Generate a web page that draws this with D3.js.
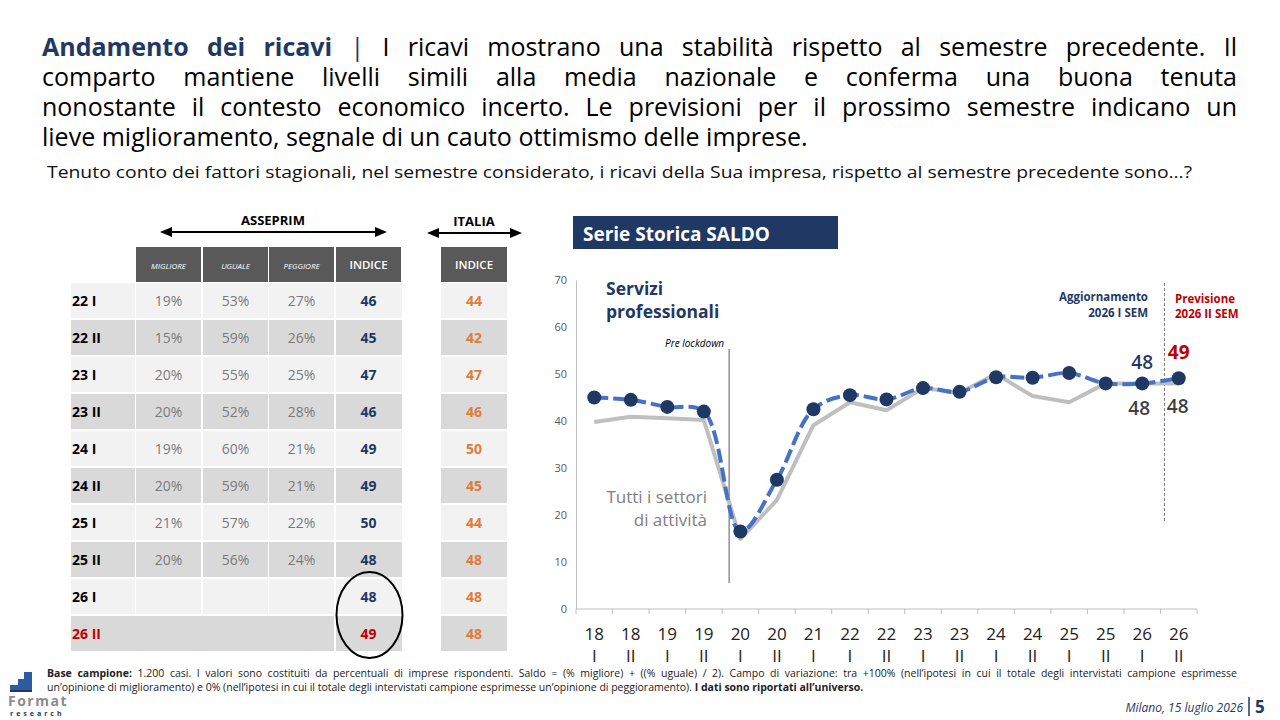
<!DOCTYPE html>
<html lang="it">
<head>
<meta charset="utf-8">
<title>Andamento dei ricavi</title>
<script src="https://d3js.org/d3.v7.min.js"></script>
<style>
  body { margin: 0; background: #fff; }
  #page { position: relative; width: 1280px; height: 720px; overflow: hidden; font-family: "Open Sans", "DejaVu Sans", sans-serif; }
  .tline { position: absolute; left: 42px; width: 1195px; font-size: 25px; color: #000; white-space: nowrap; line-height: 30px; }
  .just { text-align: justify; text-align-last: justify; white-space: normal; }
  .foot { position: absolute; left: 47px; width: 1190px; font-size: 10.5px; color: #222; line-height: 14px; }
  svg { position: absolute; left: 0; top: 0; }
</style>
</head>
<body>
<div id="page"></div>
<script>
// ---- data ----
const periods = ['18 I','18 II','19 I','19 II','20 I','20 II','21 I','22 I','22 II','23 I','23 II','24 I','24 II','25 I','25 II','26 I','26 II'];
const serviziVals = [45, 44.5, 43, 42, 16.5, 27.5, 42.5, 45.5, 44.6, 47, 46.2, 49.3, 49.2, 50.2, 48, 48, 49.1];
const tuttiVals   = [39.8, 40.9, 40.6, 40.2, 14.9, 23.2, 39.1, 44, 42.3, 47, 46, 50, 45.3, 44, 48, 48, 48];
const yTicks = [0, 10, 20, 30, 40, 50, 60, 70];

const tableRows = ['22 I','22 II','23 I','23 II','24 I','24 II','25 I','25 II','26 I','26 II'];
const migliore = [19, 15, 20, 20, 19, 20, 21, 20, null, null];
const uguale   = [53, 59, 55, 52, 60, 59, 57, 56, null, null];
const peggiore = [27, 26, 25, 28, 21, 21, 22, 24, null, null];
const indiceAsseprim = [46, 45, 47, 46, 49, 49, 50, 48, 48, 49];
const indiceItalia   = [44, 42, 47, 46, 50, 45, 44, 48, 48, 48];
const tableCols = ['MIGLIORE', 'UGUALE', 'PEGGIORE', 'INDICE'];

const NAVY = '#1f3864', RED = '#c00000', BLUE = '#4472c4', GREY = '#bfbfbf', ORANGE = '#e07b39';

const page = d3.select('#page');

// ---- title (justified lines) ----
const titleLines = [
  {html: '<b style="color:#1f3864">Andamento dei ricavi</b> <span style="color:#1f3864">|</span> I ricavi mostrano una stabilità rispetto al semestre precedente. Il', just: true},
  {html: 'comparto mantiene livelli simili alla media nazionale e conferma una buona tenuta', just: true},
  {html: 'nonostante il contesto economico incerto. Le previsioni per il prossimo semestre indicano un', just: true},
  {html: 'lieve miglioramento, segnale di un cauto ottimismo delle imprese.', just: false}
];
titleLines.forEach(function(l, i) {
  page.append('div')
    .attr('class', 'tline' + (l.just ? ' just' : ''))
    .style('top', (31 + i * 30) + 'px')
    .html(l.html);
});

page.append('div')
  .attr('class', 'foot just')
  .style('top', '666px')
  .html('<b>Base campione:</b> 1.200 casi. I valori sono costituiti da percentuali di imprese rispondenti. Saldo = (% migliore) + ((% uguale) / 2). Campo di variazione: tra +100% (nell\u2019ipotesi in cui il totale degli intervistati campione esprimesse');
page.append('div')
  .attr('class', 'foot')
  .style('top', '680px')
  .html('un\u2019opinione di miglioramento) e 0% (nell\u2019ipotesi in cui il totale degli intervistati campione esprimesse un\u2019opinione di peggioramento). <b>I dati sono riportati all\u2019universo.</b>');

const svg = page.append('svg').attr('width', 1280).attr('height', 720);

// subtitle
svg.append('text')
  .attr('x', 47).attr('y', 178)
  .attr('font-size', 16).attr('fill', '#111')
  .attr('textLength', 1145).attr('lengthAdjust', 'spacingAndGlyphs')
  .text('Tenuto conto dei fattori stagionali, nel semestre considerato, i ricavi della Sua impresa, rispetto al semestre precedente sono…?');

// ---- table ----
const rowY = d3.scaleBand().domain(tableRows).range([283, 653]).paddingInner(0);
const colX = d3.scaleOrdinal().domain(tableCols).range([136, 203, 269, 336]);
const colW = 65;
const labX = 71, labW = 64;
const itX = 441, itW = 66;
const rh = rowY.bandwidth() - 2;

function arrow(g, x1, x2, y) {
  g.append('line').attr('x1', x1 + 8).attr('x2', x2 - 8).attr('y1', y).attr('y2', y)
    .attr('stroke', '#000').attr('stroke-width', 2);
  g.append('path').attr('d', `M${x1},${y} L${x1 + 12},${y - 5} L${x1 + 12},${y + 5} Z`).attr('fill', '#000');
  g.append('path').attr('d', `M${x2},${y} L${x2 - 12},${y - 5} L${x2 - 12},${y + 5} Z`).attr('fill', '#000');
}
const tbl = svg.append('g');
tbl.append('text').attr('x', 273).attr('y', 225).attr('text-anchor', 'middle')
  .attr('font-size', 13).attr('font-weight', 'bold').text('ASSEPRIM');
arrow(tbl, 160, 387, 232);
tbl.append('text').attr('x', 474).attr('y', 226).attr('text-anchor', 'middle')
  .attr('font-size', 13).attr('font-weight', 'bold').text('ITALIA');
arrow(tbl, 427, 522, 233);

// header
tableCols.forEach(function(c) {
  tbl.append('rect').attr('x', colX(c)).attr('y', 247).attr('width', colW).attr('height', 35).attr('fill', '#595959');
  tbl.append('text').attr('x', colX(c) + colW / 2).attr('y', 269).attr('text-anchor', 'middle')
    .attr('fill', '#fff')
    .attr('font-size', c === 'INDICE' ? 11.5 : 8)
    .attr('font-style', c === 'INDICE' ? 'normal' : 'italic')
    .attr('font-weight', c === 'INDICE' ? 600 : 400)
    .text(c);
});
tbl.append('rect').attr('x', itX).attr('y', 247).attr('width', itW).attr('height', 35).attr('fill', '#595959');
tbl.append('text').attr('x', itX + itW / 2).attr('y', 269).attr('text-anchor', 'middle')
  .attr('fill', '#fff').attr('font-size', 11.5).attr('font-weight', 600).text('INDICE');

tableRows.forEach(function(r, i) {
  const y0 = rowY(r);
  const fill = i % 2 === 0 ? '#f2f2f2' : '#d9d9d9';
  const last = i === tableRows.length - 1;
  if (last) {
    tbl.append('rect').attr('x', labX).attr('y', y0).attr('width', 334 - labX).attr('height', rh).attr('fill', fill);
  } else {
    tbl.append('rect').attr('x', labX).attr('y', y0).attr('width', labW).attr('height', rh).attr('fill', fill);
    ['MIGLIORE', 'UGUALE', 'PEGGIORE'].forEach(function(c) {
      tbl.append('rect').attr('x', colX(c)).attr('y', y0).attr('width', colW).attr('height', rh).attr('fill', fill);
    });
  }
  tbl.append('rect').attr('x', colX('INDICE')).attr('y', y0).attr('width', colW + 1).attr('height', rh).attr('fill', fill);
  tbl.append('rect').attr('x', itX).attr('y', y0).attr('width', itW).attr('height', rh).attr('fill', fill);

  const ty = y0 + rh / 2 + 5;
  tbl.append('text').attr('x', labX + 1).attr('y', ty).attr('font-size', 14).attr('font-weight', 'bold')
    .attr('fill', last ? RED : '#000').text(r);
  [[migliore, 'MIGLIORE'], [uguale, 'UGUALE'], [peggiore, 'PEGGIORE']].forEach(function(p) {
    const v = p[0][i];
    if (v == null) return;
    tbl.append('text').attr('x', colX(p[1]) + colW / 2).attr('y', ty).attr('text-anchor', 'middle')
      .attr('font-size', 14).attr('fill', '#7a7a7a').text(v + '%');
  });
  tbl.append('text').attr('x', colX('INDICE') + colW / 2).attr('y', ty).attr('text-anchor', 'middle')
    .attr('font-size', 14).attr('font-weight', 'bold').attr('fill', last ? RED : NAVY).text(indiceAsseprim[i]);
  tbl.append('text').attr('x', itX + itW / 2).attr('y', ty).attr('text-anchor', 'middle')
    .attr('font-size', 14).attr('font-weight', 'bold').attr('fill', ORANGE).text(indiceItalia[i]);
});
tbl.append('ellipse')
  .attr('cx', colX('INDICE') + colW / 2 + 1).attr('cy', rowY('26 II') - 1)
  .attr('rx', 33).attr('ry', 43)
  .attr('fill', 'none').attr('stroke', '#000').attr('stroke-width', 2);

// ---- chart ----
const x = d3.scaleBand().domain(periods).range([576, 1197]);
const y = d3.scaleLinear().domain([0, 70]).range([609, 280]);
const bw = x.bandwidth();
const cx = p => x(p) + bw / 2;

// title box
svg.append('rect').attr('x', 573).attr('y', 216).attr('width', 265).attr('height', 33).attr('fill', NAVY);
svg.append('text').attr('x', 583).attr('y', 241).attr('fill', '#fff')
  .attr('font-size', 19).attr('font-weight', 'bold').text('Serie Storica SALDO');

// y axis
const yAxis = svg.append('g').attr('transform', 'translate(576,0)')
  .call(d3.axisLeft(y).tickValues(yTicks).tickSize(0).tickPadding(9));
yAxis.select('.domain').attr('stroke', '#bfbfbf');
yAxis.selectAll('text').attr('font-size', 11).attr('fill', '#595959').attr('font-family', '"Open Sans", sans-serif');

// x axis
const xAxis = svg.append('g').attr('transform', 'translate(0,609)');
xAxis.append('line').attr('x1', 576).attr('x2', 1197).attr('stroke', '#bfbfbf');
xAxis.selectAll('line.tk').data(periods.concat(['end'])).enter().append('line')
  .attr('class', 'tk')
  .attr('x1', d => d === 'end' ? 1197 : x(d)).attr('x2', d => d === 'end' ? 1197 : x(d))
  .attr('y1', 0).attr('y2', 5).attr('stroke', '#bfbfbf');
const xl = xAxis.selectAll('text.lab').data(periods).enter().append('text')
  .attr('class', 'lab').attr('text-anchor', 'middle').attr('font-size', 17).attr('fill', '#222');
xl.append('tspan').attr('x', d => cx(d)).attr('y', 31).text(d => d.split(' ')[0]);
xl.append('tspan').attr('x', d => cx(d)).attr('y', 53).text(d => d.split(' ')[1]);

// pre lockdown
const plX = x('20 I') + 7;
svg.append('line').attr('x1', plX).attr('x2', plX).attr('y1', 349).attr('y2', 583)
  .attr('stroke', '#595959').attr('stroke-width', 1);
svg.append('text').attr('x', plX - 5).attr('y', 347).attr('text-anchor', 'end')
  .attr('font-size', 10).attr('font-style', 'italic').attr('fill', '#000').text('Pre lockdown');

// forecast divider
const fcX = x('26 II') + 4;
svg.append('line').attr('x1', fcX).attr('x2', fcX).attr('y1', 283).attr('y2', 522)
  .attr('stroke', '#7f7f7f').attr('stroke-width', 1).attr('stroke-dasharray', '3,2');

// series
const tuttiLine = d3.line().x((d, i) => cx(periods[i])).y(d => y(d));
const servLine = d3.line().x((d, i) => cx(periods[i])).y(d => y(d)).curve(d3.curveCatmullRom.alpha(0.5));

svg.append('path').datum(tuttiVals).attr('d', tuttiLine)
  .attr('fill', 'none').attr('stroke', GREY).attr('stroke-width', 4).attr('stroke-linejoin', 'round');
svg.append('path').datum(serviziVals).attr('d', servLine)
  .attr('fill', 'none').attr('stroke', BLUE).attr('stroke-width', 4).attr('stroke-dasharray', '14,5');
svg.selectAll('circle.pt').data(serviziVals).enter().append('circle')
  .attr('class', 'pt')
  .attr('cx', (d, i) => cx(periods[i])).attr('cy', d => y(d)).attr('r', 7).attr('fill', NAVY);

// annotations
svg.append('text').attr('x', 606).attr('y', 295).attr('font-size', 17.5).attr('font-weight', 'bold').attr('fill', NAVY).text('Servizi');
svg.append('text').attr('x', 606).attr('y', 318).attr('font-size', 17.5).attr('font-weight', 'bold').attr('fill', NAVY).text('professionali');
svg.append('text').attr('x', 707).attr('y', 503).attr('text-anchor', 'end').attr('font-size', 17).attr('fill', '#7f7f7f').text('Tutti i settori');
svg.append('text').attr('x', 707).attr('y', 526).attr('text-anchor', 'end').attr('font-size', 17).attr('fill', '#7f7f7f').text('di attività');

svg.append('text').attr('x', 1148).attr('y', 301).attr('text-anchor', 'end').attr('font-size', 11.5).attr('font-weight', 'bold').attr('fill', NAVY).text('Aggiornamento');
svg.append('text').attr('x', 1148).attr('y', 317).attr('text-anchor', 'end').attr('font-size', 11.5).attr('font-weight', 'bold').attr('fill', NAVY).text('2026 I SEM');
svg.append('text').attr('x', 1175).attr('y', 303).attr('font-size', 11.5).attr('font-weight', 'bold').attr('fill', RED).text('Previsione');
svg.append('text').attr('x', 1175).attr('y', 318).attr('font-size', 11.5).attr('font-weight', 'bold').attr('fill', RED).text('2026 II SEM');

const n = periods.length;
svg.append('text').attr('x', cx(periods[n - 2])).attr('y', y(serviziVals[n - 2]) - 14).attr('text-anchor', 'middle')
  .attr('font-size', 19).attr('font-weight', 600).attr('fill', NAVY).text(Math.round(serviziVals[n - 2]));
svg.append('text').attr('x', cx(periods[n - 1])).attr('y', y(serviziVals[n - 1]) - 19).attr('text-anchor', 'middle')
  .attr('font-size', 19).attr('font-weight', 'bold').attr('fill', RED).text(Math.round(serviziVals[n - 1]));
svg.append('text').attr('x', cx(periods[n - 2]) - 3).attr('y', y(tuttiVals[n - 2]) + 32).attr('text-anchor', 'middle')
  .attr('font-size', 19).attr('font-weight', 600).attr('fill', '#404040').text(Math.round(tuttiVals[n - 2]));
svg.append('text').attr('x', cx(periods[n - 1]) - 1).attr('y', y(tuttiVals[n - 1]) + 30).attr('text-anchor', 'middle')
  .attr('font-size', 19).attr('font-weight', 600).attr('fill', '#404040').text(Math.round(tuttiVals[n - 1]));

// ---- footer ----
const logo = svg.append('g');
logo.append('path').attr('d', 'M10,691 L10,685 L18,685 L18,679 L24,679 L24,672 L32,672 L32,691 Z').attr('fill', '#2e5aa0');
logo.append('rect').attr('x', 10).attr('y', 690).attr('width', 22).attr('height', 2).attr('fill', '#1f3864');
logo.append('text').attr('x', 8).attr('y', 706).attr('font-size', 14).attr('font-weight', 'bold')
  .attr('fill', '#8c8c8c').attr('letter-spacing', 1.5).text('Format');
logo.append('text').attr('x', 10).attr('y', 716).attr('font-size', 7).attr('font-weight', 'bold')
  .attr('fill', NAVY).attr('letter-spacing', 3).text('research');

svg.append('text').attr('x', 1243).attr('y', 712).attr('text-anchor', 'end')
  .attr('font-size', 12).attr('font-style', 'italic').attr('fill', NAVY).text('Milano, 15 luglio 2026');
svg.append('line').attr('x1', 1249).attr('x2', 1249).attr('y1', 697).attr('y2', 716).attr('stroke', NAVY).attr('stroke-width', 1.5);
svg.append('text').attr('x', 1255).attr('y', 713).attr('font-size', 17).attr('font-weight', 'bold').attr('fill', NAVY).text('5');
</script>
</body>
</html>
